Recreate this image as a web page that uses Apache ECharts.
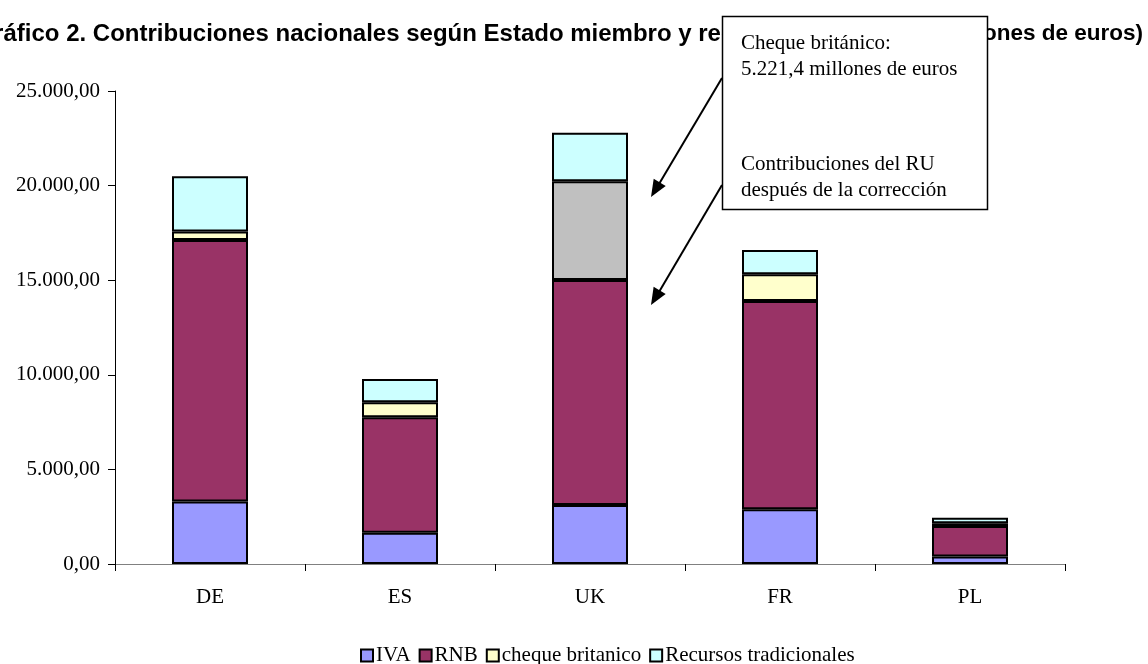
<!DOCTYPE html>
<html><head><meta charset="utf-8">
<script src="https://cdn.jsdelivr.net/npm/echarts@6/dist/echarts.min.js"></script>
<style>html,body{margin:0;padding:0;background:#fff}#c{width:1148px;height:664px}</style>
</head><body><div id="c"></div>
<script>
const categories = ['DE', 'ES', 'UK', 'FR', 'PL'];
const seriesNames = ['IVA', 'RNB', 'cheque britanico', 'Recursos tradicionales'];
const iva = [3300, 1655, 3120, 2890, 390];
const rnb = [13830, 6100, 11890, 11010, 1620];
const cheque = [440, 790, 5221.4, 1410, 140];
const recursos = [2930, 1230, 2560, 1280, 300];
const yTicks = [0, 5000, 10000, 15000, 20000, 25000];
const titleStart = 'Gráfico 2. Contribuciones nacionales según Estado miembro y re';
const titleHidden = 'curso (mill';
const titleEnd = 'ones de euros)';
const noteLines1 = ['Cheque británico:', '5.221,4 millones de euros'];
const noteLines2 = ['Contribuciones del RU', 'después de la corrección'];

const colors = ['#9999FF', '#993366', '#FFFFCC', '#CCFFFF'];
const ukChequeColor = '#C0C0C0';
const serif = '"Liberation Serif","Times New Roman",serif';
const sans = '"Liberation Sans",Arial,sans-serif';

function fmt(v) {
  const s = v.toFixed(2).split('.');
  return s[0].replace(/\B(?=(\d{3})+(?!\d))/g, '.') + ',' + s[1];
}

const dataSets = [iva, rnb, cheque, recursos];
const series = dataSets.map((arr, i) => ({
  name: seriesNames[i],
  type: 'bar',
  stack: 'total',
  barWidth: '40%',
  itemStyle: { color: colors[i], borderColor: '#000', borderWidth: 2 },
  data: arr.map((v, j) => (i === 2 && categories[j] === 'UK')
    ? { value: v, itemStyle: { color: ukChequeColor } } : v)
}));

function arrowHead(sx, sy, tx, ty, len, hw) {
  const dx = tx - sx, dy = ty - sy, L = Math.hypot(dx, dy);
  const ux = dx / L, uy = dy / L;
  const bx = tx - ux * len, by = ty - uy * len;
  const px = -uy * hw, py = ux * hw;
  return [[tx, ty], [bx + px, by + py], [bx - px, by - py]];
}
const a1 = { sx: 722, sy: 78, tx: 651, ty: 197 };
const a2 = { sx: 722, sy: 185, tx: 651, ty: 305 };

const tStyle = { fontFamily: sans, fontWeight: 'bold', fontSize: 24, color: '#000' };

const chart = echarts.init(document.getElementById('c'));
chart.setOption({
  animation: false,
  backgroundColor: '#fff',
  title: {
    text: '{a|' + titleStart + '}{g|' + titleHidden + '}{b|' + titleEnd + '}',
    right: 0, top: 17,
    textStyle: Object.assign({}, tStyle, {
      rich: {
        a: Object.assign({}, tStyle),
        g: Object.assign({}, tStyle, { width: 262 }),
        b: Object.assign({}, tStyle, { fontSize: 22.5 })
      }
    })
  },
  legend: {
    data: seriesNames,
    left: 355, top: 640,
    icon: 'rect', itemWidth: 12, itemHeight: 12, itemGap: 8,
    itemStyle: { borderColor: '#000', borderWidth: 2 },
    textStyle: { fontFamily: serif, fontSize: 21, color: '#000', padding: [0, 0, 0, -2] }
  },
  grid: { left: 115, right: 83, top: 91, bottom: 100 },
  xAxis: {
    type: 'category',
    data: categories,
    boundaryGap: true,
    axisLine: { lineStyle: { color: '#808080', width: 1 } },
    axisTick: { show: true, length: 7, lineStyle: { color: '#000' } },
    axisLabel: { fontFamily: serif, fontSize: 21, color: '#000', margin: 23 }
  },
  yAxis: {
    type: 'value',
    min: yTicks[0], max: yTicks[yTicks.length - 1], interval: yTicks[1] - yTicks[0],
    axisLine: { show: true, lineStyle: { color: '#000', width: 1 } },
    axisTick: { show: true, length: 7, lineStyle: { color: '#000' } },
    splitLine: { show: false },
    axisLabel: { fontFamily: serif, fontSize: 21, color: '#000', margin: 15, formatter: v => fmt(v) }
  },
  series: series,
  graphic: [
    { type: 'rect', z: 100, shape: { x: 722.5, y: 16.5, width: 265, height: 193 },
      style: { fill: '#fff', stroke: '#000', lineWidth: 1.5 } },
    { type: 'text', z: 101, x: 741, y: 30, style: { text: noteLines1.join('\n'), font: '21px ' + serif, fill: '#000', lineHeight: 26 } },
    { type: 'text', z: 101, x: 741, y: 151, style: { text: noteLines2.join('\n'), font: '21px ' + serif, fill: '#000', lineHeight: 26 } },
    { type: 'line', z: 101, shape: { x1: a1.sx, y1: a1.sy, x2: a1.tx + 8, y2: a1.ty - 13 }, style: { stroke: '#000', lineWidth: 2 } },
    { type: 'polygon', z: 101, shape: { points: arrowHead(a1.sx, a1.sy, a1.tx, a1.ty, 17, 7) }, style: { fill: '#000' } },
    { type: 'line', z: 101, shape: { x1: a2.sx, y1: a2.sy, x2: a2.tx + 8, y2: a2.ty - 13 }, style: { stroke: '#000', lineWidth: 2 } },
    { type: 'polygon', z: 101, shape: { points: arrowHead(a2.sx, a2.sy, a2.tx, a2.ty, 17, 7) }, style: { fill: '#000' } }
  ]
});
</script>
</body></html>
